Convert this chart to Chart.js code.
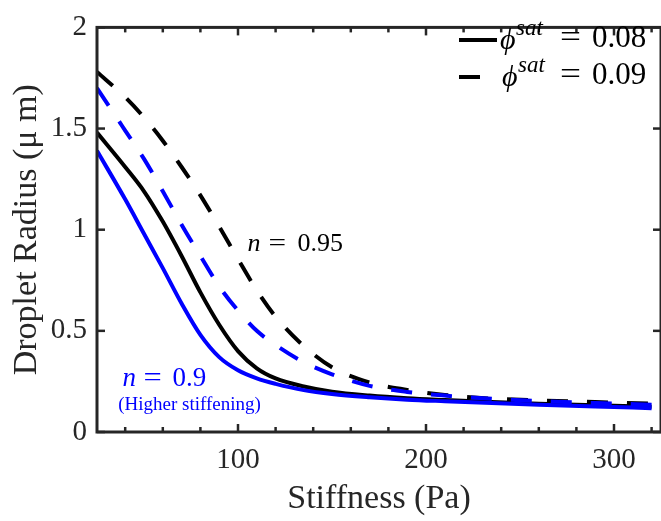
<!DOCTYPE html>
<html>
<head>
<meta charset="utf-8">
<script src="https://cdn.jsdelivr.net/npm/chart.js@4.4.0/dist/chart.umd.min.js"></script>
<style>
html, body { margin: 0; padding: 0; background: #fff; overflow: hidden; }
canvas { display: block; }
</style>
</head>
<body>
<canvas id="chart" width="661" height="521"></canvas>
<script>
// data
const stiffness = [25, 40, 50, 60, 70, 80, 90, 100, 110, 120, 135, 150, 170, 190, 210, 235, 260, 290, 320];
const radiusN095Phi008 = [1.48, 1.31, 1.19, 1.04, 0.87, 0.69, 0.53, 0.40, 0.315, 0.265, 0.225, 0.199, 0.18, 0.167, 0.158, 0.148, 0.14, 0.132, 0.125];
const radiusN095Phi009 = [1.78, 1.655, 1.555, 1.44, 1.31, 1.17, 1.015, 0.855, 0.70, 0.57, 0.425, 0.32, 0.245, 0.208, 0.183, 0.165, 0.156, 0.148, 0.14];
const radiusN09Phi008 = [1.39, 1.15, 0.98, 0.81, 0.635, 0.48, 0.37, 0.305, 0.265, 0.238, 0.207, 0.188, 0.172, 0.16, 0.152, 0.143, 0.135, 0.126, 0.118];
const radiusN09Phi009 = [1.70, 1.49, 1.35, 1.19, 1.025, 0.87, 0.72, 0.60, 0.50, 0.43, 0.345, 0.285, 0.228, 0.198, 0.18, 0.164, 0.153, 0.143, 0.135];
const xTickValues = [100, 200, 300];
const yTickValues = [0, 0.5, 1, 1.5, 2];
const xMinorStep = 20;

const serif = '"Liberation Serif", "Times New Roman", serif';
const frameColor = '#262626';
const blue = '#0000ff';

function toPoints(ys) {
    return stiffness.map((x, i) => ({ x: x, y: ys[i] }));
}

function curve(ys, color, dashed) {
    return {
        data: toPoints(ys),
        borderColor: color,
        borderWidth: 4,
        borderDash: dashed ? [21, 19] : [],
        borderCapStyle: 'butt',
        pointRadius: 0,
        cubicInterpolationMode: 'monotone',
        fill: false
    };
}

// wide "=" like the LaTeX one
function wideEquals(ctx, x, y, sx) {
    ctx.save();
    ctx.translate(x, y);
    ctx.scale(sx, 1);
    ctx.fillText('=', 0, 0);
    ctx.restore();
}

// box, inward ticks, text labels and legend
const extras = {
    id: 'extras',
    afterDatasetsDraw(chart) {
        const { ctx, chartArea: a, scales: { x, y } } = chart;
        ctx.save();
        ctx.strokeStyle = frameColor;
        ctx.lineWidth = 3;
        ctx.lineCap = 'butt';
        ctx.strokeRect(a.left, a.top, a.right - a.left, a.bottom - a.top);

        const seg = (x1, y1, x2, y2) => {
            ctx.beginPath(); ctx.moveTo(x1, y1); ctx.lineTo(x2, y2); ctx.stroke();
        };
        ctx.lineWidth = 2.5;
        for (let v = Math.ceil(x.min / xMinorStep) * xMinorStep; v < x.max; v += xMinorStep) {
            const px = x.getPixelForValue(v);
            const len = xTickValues.includes(v) ? 8 : 5;
            seg(px, a.bottom, px, a.bottom - len);
            seg(px, a.top, px, a.top + len);
        }
        yTickValues.forEach(v => {
            const py = y.getPixelForValue(v);
            seg(a.left, py, a.left + 8, py);
            seg(a.right, py, a.right - 8, py);
        });

        // curve labels
        ctx.textBaseline = 'alphabetic';
        ctx.textAlign = 'left';
        const label = (xv, yv, num, color, size) => {
            const px = x.getPixelForValue(xv), py = y.getPixelForValue(yv);
            ctx.fillStyle = color;
            ctx.font = 'italic ' + size + 'px ' + serif;
            ctx.fillText('n', px, py);
            ctx.font = size + 'px ' + serif;
            wideEquals(ctx, px + 21, py, 1.2);
            ctx.fillText(num, px + 50, py);
        };
        label(105, 0.895, '0.95', '#000', 26);
        label(38.5, 0.229, '0.9', blue, 27);
        ctx.fillStyle = blue;
        ctx.font = '19px ' + serif;
        ctx.fillText('(Higher stiffening)', x.getPixelForValue(36.3), y.getPixelForValue(0.107));

        // legend
        const entries = [{ text: '0.08', dash: [] }, { text: '0.09', dash: [21, 19] }];
        entries.forEach((e, i) => {
            const ly = 40 + i * 37;
            ctx.strokeStyle = '#000';
            ctx.lineWidth = 4;
            ctx.setLineDash(e.dash);
            seg(459, ly, 497, ly);
            ctx.setLineDash([]);
            const base = ly + 7;
            ctx.fillStyle = '#000';
            ctx.font = 'italic 30px ' + serif;
            ctx.fillText('\u03d5', 500 + i * 2, base + 2);
            ctx.font = 'italic 23px ' + serif;
            ctx.fillText('sat', 516 + i * 2, base - 12);
            ctx.font = '31px ' + serif;
            wideEquals(ctx, 560, base, 1.2);
            ctx.fillText(e.text, 592, base);
        });
        ctx.restore();
    }
};

new Chart(document.getElementById('chart'), {
    type: 'line',
    data: {
        datasets: [
            curve(radiusN09Phi009, blue, true),
            curve(radiusN09Phi008, blue, false),
            curve(radiusN095Phi009, '#000', true),
            curve(radiusN095Phi008, '#000', false)
        ]
    },
    options: {
        responsive: false,
        animation: false,
        layout: { padding: { top: 6, right: -5, left: 0, bottom: 0 } },
        plugins: { legend: { display: false }, tooltip: { enabled: false } },
        scales: {
            x: {
                type: 'linear',
                min: 25,
                max: 325,
                grid: { display: false, drawTicks: false },
                border: { display: false },
                afterBuildTicks: s => { s.ticks = xTickValues.map(v => ({ value: v })); },
                afterFit: s => { s.height = 89; },
                ticks: { color: '#262626', padding: 11, maxRotation: 0, font: { family: serif, size: 29 } },
                title: { display: true, text: 'Stiffness (Pa)', color: '#262626', padding: { top: 0, bottom: 2 }, font: { family: serif, size: 34 } }
            },
            y: {
                min: 0,
                max: 2,
                grid: { display: false, drawTicks: false },
                border: { display: false },
                afterBuildTicks: s => { s.ticks = yTickValues.map(v => ({ value: v })); },
                afterFit: s => { s.width = 97; },
                ticks: { color: '#262626', padding: 10, callback: v => String(v), font: { family: serif, size: 29 } },
                title: { display: true, text: 'Droplet Radius (\u03bc m)', color: '#262626', padding: { top: 7, bottom: 0 }, font: { family: serif, size: 34 } }
            }
        }
    },
    plugins: [extras]
});
</script>
</body>
</html>
